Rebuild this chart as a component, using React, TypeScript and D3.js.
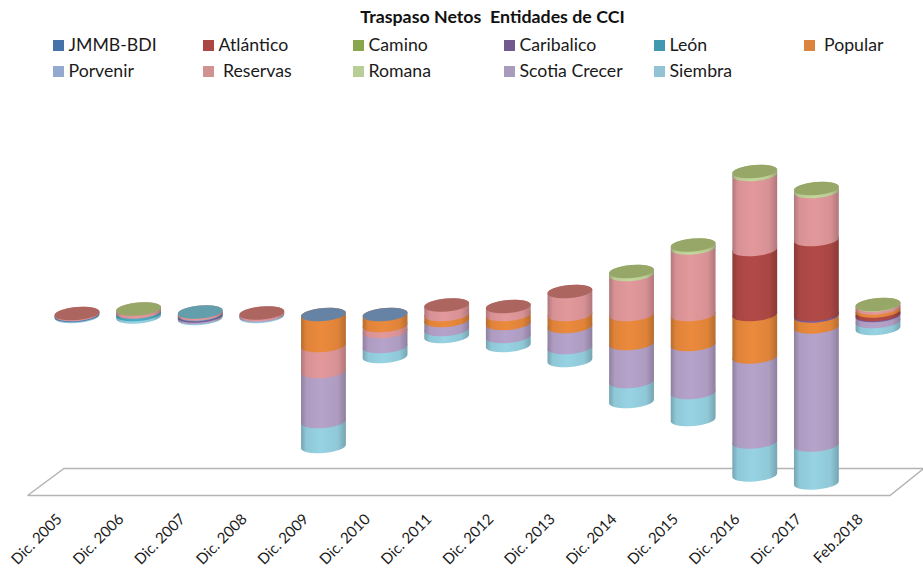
import React from "react";
import * as d3 from "d3";

const categories = ["Dic. 2005","Dic. 2006","Dic. 2007","Dic. 2008","Dic. 2009","Dic. 2010","Dic. 2011","Dic. 2012","Dic. 2013","Dic. 2014","Dic. 2015","Dic. 2016","Dic. 2017","Feb.2018"];
const seriesNames = ["JMMB-BDI","Atlántico","Camino","Caribalico","León","Popular","Porvenir","Reservas","Romana","Scotia Crecer","Siembra"];
const legendLabels = ["JMMB-BDI","Atlántico","Camino","Caribalico","León"," Popular","Porvenir"," Reservas","Romana","Scotia Crecer","Siembra"];
const colors = ["#4572a7","#aa4643","#89a54e","#71588f","#4198af","#db843d","#93a9cf","#d19392","#b9cd96","#a99bbd","#92c3d4"];
const barColors = ["#4f81bd","#b24a47","#9bbb59","#7b5f9e","#4aacc5","#eb8a3c","#95b3d7","#e3999c","#c3d69b","#b6a3cb","#97d3e3"];

const jmmb =     [-1,0,0,0,0,0,0,0,0,0,0,0,0,0];
const atlantico =[0,0,0,0,0,0,0,0,0,0,0,65,75,3.5];
const camino =   [0,0,0,0,0,0,0,0,0,0,0,0,0,0];
const caribalico=[0,0,-1.5,0,0,0,0,0,0,0,0,0,-1.5,-1];
const leon =     [0,2.5,0.5,0,0,0,0,0,0,0,0,0,0,0];
const popular =  [0,0,0,0,-31,-11,-6,-9,-12,-29,-30,-42.5,-11,3];
const porvenir = [0,0,0,0,0,0,0,0,0,0,0,0,0,0];
const reservas = [1,3,2,1.5,-26,-6,9.5,8,23,40,66.5,75,48,3];
const romana =   [0,0,0,0,0,0,0,0,0,3,3,3,3,0.5];
const scotia =   [0,0,-1.5,-1,-50,-15,-9,-13,-21,-38,-48,-85,-118,-6];
const siembra =  [-1,-2.5,-1,-1,-25,-10,-7,-9,-13,-20,-27,-33,-38,-7];
const seriesValues = [jmmb,atlantico,camino,caribalico,leon,popular,porvenir,reservas,romana,scotia,siembra];
// Series whose colour shows on each cylinder's top face
const topFaces = ["Atlántico","Camino","León","Atlántico","JMMB-BDI","JMMB-BDI","Atlántico","Atlántico","Atlántico","Camino","Camino","Camino","Camino","Camino"];

const W = 923, H = 569;
const x = d3.scalePoint<string>().domain(categories).range([77, 878]);
const y = d3.scaleLinear().domain([-170, 150]).range([484.5, 164.5]);
const RX = 22.5, RY = 6.5, TILT = 5;
const dx = RX * Math.cos((TILT * Math.PI) / 180);
const dy = RX * Math.sin((TILT * Math.PI) / 180);

function segPath(cx: number, yTop: number, yBot: number) {
  return `M${cx - dx},${yBot + dy}A${RX},${RY} ${-TILT} 0 0 ${cx + dx},${yBot - dy}L${cx + dx},${yTop - dy}A${RX},${RY} ${-TILT} 0 0 ${cx - dx},${yTop + dy}Z`;
}

const segments = categories.map((cat, ci) => {
  let pos = 0, neg = 0;
  const up: any[] = [], down: any[] = [];
  seriesValues.forEach((vals, si) => {
    const v = vals[ci];
    if (v > 0) { up.push({ si, a: pos, b: pos + v }); pos += v; }
    else if (v < 0) { down.push({ si, a: neg + v, b: neg }); neg += v; }
  });
  return { cat, segs: [...down.reverse(), ...up], top: pos };
});

const legendX = [53, 203, 353, 504, 654, 804];
const legendTextDx = 15.5;

export default function App() {
  return (
    <svg width={W} height={H} viewBox={`0 0 ${W} ${H}`} style={{ position: "absolute", left: 0, top: 0, display: "block", background: "#fff" }} fontFamily="Lato, 'Open Sans', sans-serif">
      <defs>
        {barColors.map((c, i) => {
          const dark = d3.color(c)!.darker(0.7).formatHex();
          const mid = d3.color(c)!.darker(0.15).formatHex();
          return (
            <linearGradient key={i} id={`g${i}`} x1="0" x2="1" y1="0" y2="0">
              <stop offset="0" stopColor={dark} />
              <stop offset="0.12" stopColor={mid} />
              <stop offset="0.45" stopColor={c} />
              <stop offset="0.82" stopColor={mid} />
              <stop offset="1" stopColor={dark} />
            </linearGradient>
          );
        })}
        <filter id="soft" x="-10%" y="-10%" width="120%" height="120%">
          <feGaussianBlur stdDeviation="0.5" />
        </filter>
      </defs>

      <text x={492.5} y={22.5} textAnchor="middle" fontWeight="700" fontSize={17.8} fill="#111" style={{ whiteSpace: "pre" }}>Traspaso Netos  Entidades de CCI</text>

      {legendLabels.map((label, i) => {
        const col = i % 6, row = Math.floor(i / 6);
        const lx = legendX[col];
        const ly = row === 0 ? 40 : 66;
        return (
          <g key={seriesNames[i]}>
            <rect x={lx} y={ly} width={11} height={11} fill={colors[i]} />
            <text x={lx + legendTextDx} y={ly + 11} fontSize={17.7} fill="#1a1a1a" style={{ whiteSpace: "pre" }}>{label}</text>
          </g>
        );
      })}

      <path d="M27.5,495.5L64,468.5H923M27.5,495.5H890L923,469" fill="none" stroke="#b4b4b4" strokeWidth={1.5} />

      <g filter="url(#soft)">
        {segments.map((s, ci) => {
          const cx = x(s.cat)!;
          const topY = y(s.top);
          const face = colors[seriesNames.indexOf(topFaces[ci])];
          return (
            <g key={s.cat}>
              {s.segs.map((g: any) => (
                <path key={g.si} d={segPath(cx, y(g.b), y(g.a))} fill={`url(#g${g.si})`} />
              ))}
              <ellipse cx={cx} cy={topY} rx={RX} ry={RY} transform={`rotate(${-TILT} ${cx} ${topY})`} fill={d3.interpolateRgb(face, "#b4aca4")(0.3)} />
            </g>
          );
        })}
      </g>

      {categories.map((c) => (
        <text key={c} transform={`translate(${x(c)! - 14},${520}) rotate(-45)`} textAnchor="end" fontSize={15} fill="#1a1a1a">{c}</text>
      ))}
    </svg>
  );
}
